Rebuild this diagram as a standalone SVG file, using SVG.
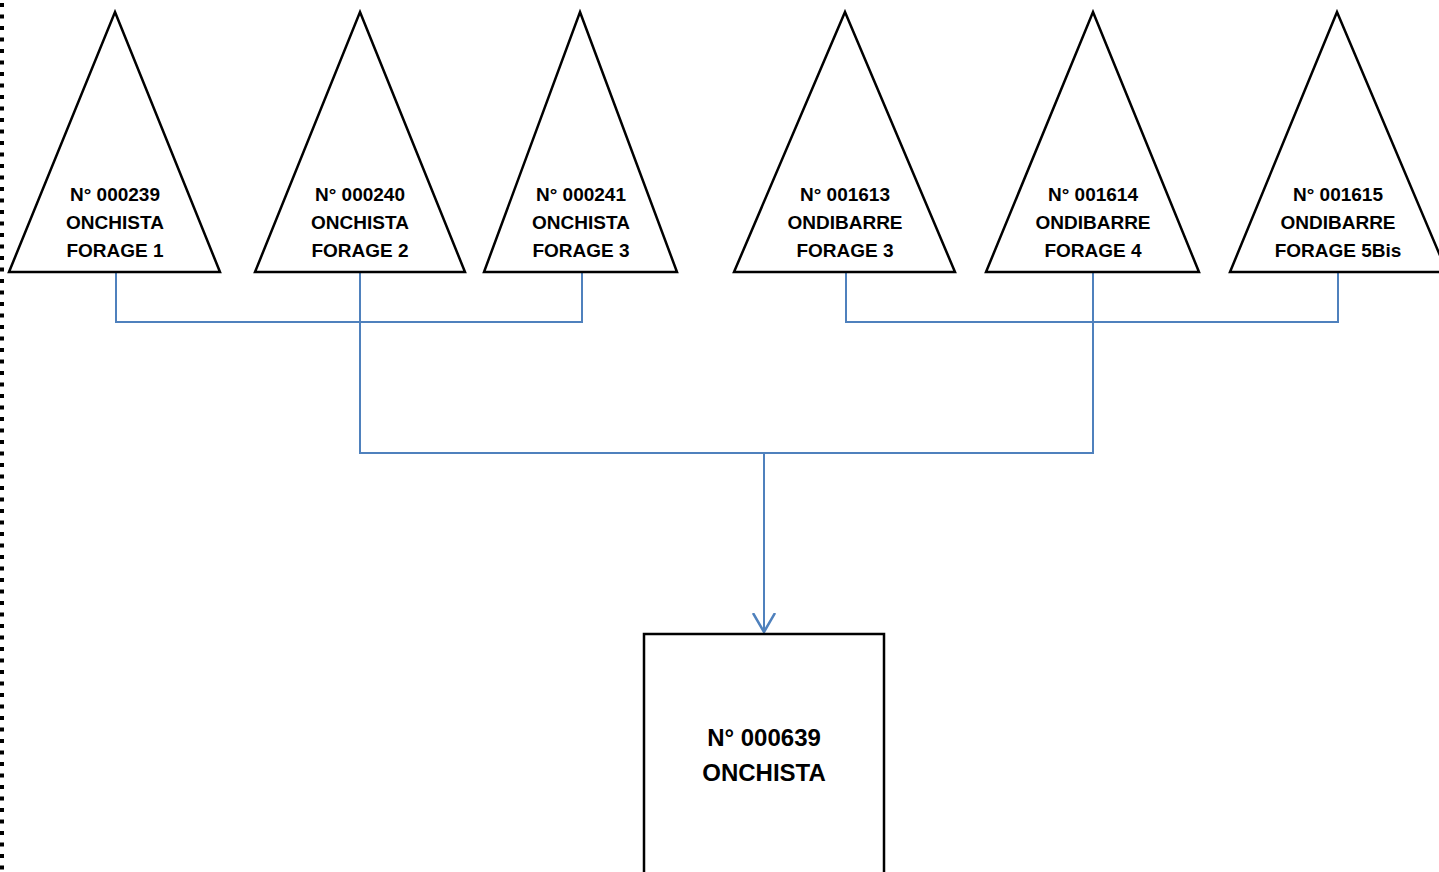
<svg xmlns="http://www.w3.org/2000/svg" width="1439" height="872" viewBox="0 0 1439 872">
<style>
.shape{fill:#fff;stroke:#000;stroke-width:2.5;stroke-linejoin:miter}
.t{font-family:"Liberation Sans",Arial,sans-serif;font-weight:bold;font-size:19px;fill:#000;text-anchor:middle}
.tb{font-family:"Liberation Sans",Arial,sans-serif;font-weight:bold;font-size:24px;fill:#000;text-anchor:middle}
.c{fill:none;stroke:#4f81bd;stroke-width:2}
</style>
<defs>
<marker id="arr" markerWidth="22" markerHeight="26" refX="19" refY="12" orient="auto" markerUnits="userSpaceOnUse">
<path d="M0,1 L19,12 L0,23" fill="none" stroke="#4f81bd" stroke-width="2.5"/>
</marker>
</defs>
<rect width="1439" height="872" fill="#fff"/>
<line x1="2" y1="3" x2="2" y2="872" stroke="#000" stroke-width="4" stroke-dasharray="4,7.5"/>
<g id="connectors">
<polyline class="c" points="116,272 116,322 582,322 582,272"/>
<polyline class="c" points="846,272 846,322 1338,322 1338,272"/>
<polyline class="c" points="360,272 360,453 1093,453 1093,272"/>
<line class="c" x1="764" y1="453" x2="764" y2="632" marker-end="url(#arr)"/>
</g>
<g id="n1"><polygon class="shape" points="115,12 220,272 9,272"/>
<text class="t" x="115" y="201">N° 000239</text><text class="t" x="115" y="229">ONCHISTA</text><text class="t" x="115" y="257">FORAGE 1</text></g>
<g id="n2"><polygon class="shape" points="360,12 465,272 255,272"/>
<text class="t" x="360" y="201">N° 000240</text><text class="t" x="360" y="229">ONCHISTA</text><text class="t" x="360" y="257">FORAGE 2</text></g>
<g id="n3"><polygon class="shape" points="580,12 677,272 484,272"/>
<text class="t" x="581" y="201">N° 000241</text><text class="t" x="581" y="229">ONCHISTA</text><text class="t" x="581" y="257">FORAGE 3</text></g>
<g id="n4"><polygon class="shape" points="845,12 955,272 734,272"/>
<text class="t" x="845" y="201">N° 001613</text><text class="t" x="845" y="229">ONDIBARRE</text><text class="t" x="845" y="257">FORAGE 3</text></g>
<g id="n5"><polygon class="shape" points="1093,12 1199,272 986,272"/>
<text class="t" x="1093" y="201">N° 001614</text><text class="t" x="1093" y="229">ONDIBARRE</text><text class="t" x="1093" y="257">FORAGE 4</text></g>
<g id="n6"><polygon class="shape" points="1337,12 1447,272 1230,272"/>
<text class="t" x="1338" y="201">N° 001615</text><text class="t" x="1338" y="229">ONDIBARRE</text><text class="t" x="1338" y="257">FORAGE 5Bis</text></g>
<g id="n7"><rect class="shape" x="644" y="634" width="240" height="240"/>
<text class="tb" x="764" y="746">N° 000639</text><text class="tb" x="764" y="781">ONCHISTA</text></g>
</svg>
